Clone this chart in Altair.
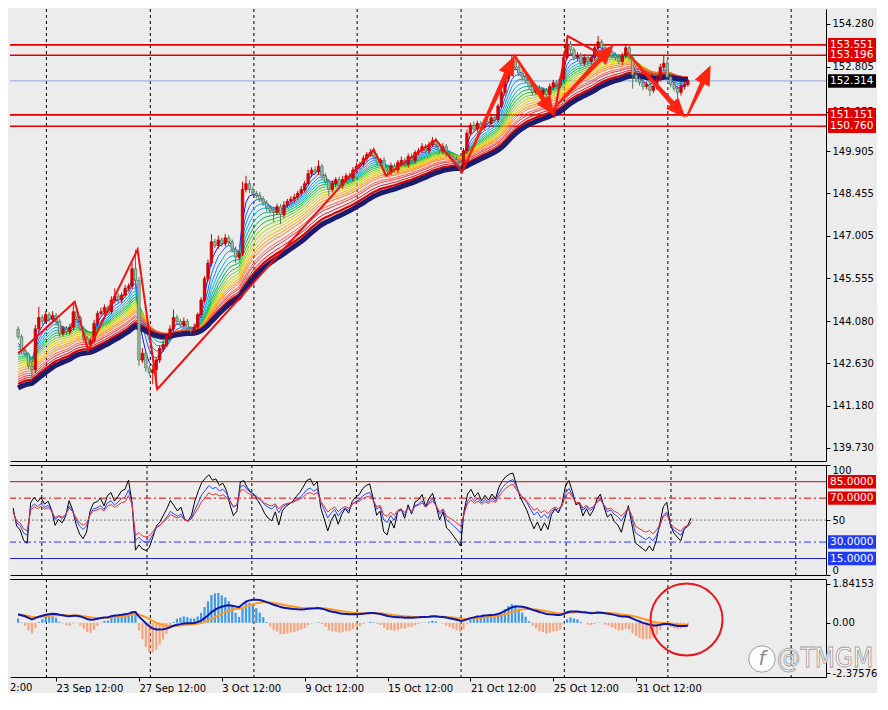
import math
import json
import altair as alt
import pandas as pd

# ---------------- data ----------------
close = [
    143.54, 143.07, 142.94, 142.54, 142.41, 143.81, 144.20, 144.07, 144.30, 144.14, 144.27, 144.07, 143.64, 143.81, 143.71,
    143.87, 144.40, 144.20, 143.81, 143.47, 143.27, 143.41, 144.00, 144.34, 144.40, 144.54, 144.40, 144.80, 144.94, 144.80,
    144.97, 145.20, 145.27, 145.87, 145.47, 142.74, 142.97, 142.47, 142.31, 142.41, 142.74, 143.14, 143.27, 143.54, 143.81,
    144.20, 144.07, 143.94, 144.07, 143.81, 143.74, 143.87, 144.30, 144.80, 145.53, 146.07, 146.80, 146.67, 146.86, 146.73,
    146.93, 146.80, 146.53, 146.27, 146.40, 148.59, 148.79, 148.59, 148.46, 148.39, 148.26, 148.13, 147.96, 147.86, 147.80,
    148.00, 147.73, 148.06, 148.19, 148.26, 148.33, 148.46, 148.59, 148.79, 149.13, 149.26, 149.19, 149.39, 149.06, 148.86,
    148.59, 148.79, 148.93, 148.73, 148.93, 149.06, 148.99, 149.26, 149.39, 149.46, 149.66, 149.79, 149.86, 149.72, 149.52,
    149.59, 149.26, 149.19, 149.39, 149.26, 149.52, 149.59, 149.46, 149.72, 149.59, 149.86, 149.92, 150.06, 149.92, 150.12,
    150.26, 150.12, 149.92, 150.06, 149.79, 149.72, 149.62, 149.52, 149.39, 149.92, 150.52, 150.79, 150.66, 150.85, 150.72,
    150.92, 150.85, 151.05, 150.99, 151.45, 151.92, 152.38, 152.78, 152.98, 152.78, 152.58, 152.45, 152.32, 152.12, 151.92,
    152.05, 151.85, 151.99, 151.85, 152.12, 152.25, 152.19, 152.38, 153.12, 153.58, 153.38, 153.12, 153.18, 152.92, 153.12,
    152.98, 153.12, 153.45, 153.65, 153.45, 153.25, 153.32, 153.18, 153.12, 152.98, 153.18, 153.45, 153.12, 152.52, 152.38,
    152.25, 152.12, 152.19, 151.99, 152.12, 152.38, 152.78, 152.92, 152.45, 152.19, 152.05, 151.92, 152.12, 152.19, 152.32,
]
open_first = 143.80
wick_up = [
    0.10, 0.08, 0.12, 0.06, 0.09, 0.14, 0.37, 0.10, 0.12, 0.08, 0.15, 0.09, 0.07, 0.11, 0.10,
    0.12, 0.34, 0.09, 0.06, 0.08, 0.10, 0.07, 0.12, 0.09, 0.14, 0.11, 0.08, 0.13, 0.26, 0.10,
    0.09, 0.12, 0.10, 0.20, 0.66, 0.12, 0.18, 0.10, 0.08, 0.12, 0.09, 0.11, 0.14, 0.10, 0.12,
    0.27, 0.10, 0.09, 0.13, 0.08, 0.10, 0.12, 0.07, 0.10, 0.09, 0.12, 0.26, 0.10, 0.15, 0.09,
    0.14, 0.10, 0.08, 0.11, 0.09, 0.27, 0.27, 0.12, 0.10, 0.08, 0.11, 0.09, 0.10, 0.07, 0.12,
    0.10, 0.09, 0.13, 0.08, 0.10, 0.11, 0.09, 0.12, 0.10, 0.14, 0.09, 0.12, 0.20, 0.08, 0.10,
    0.09, 0.12, 0.08, 0.10, 0.13, 0.09, 0.11, 0.10, 0.12, 0.08, 0.10, 0.09, 0.12, 0.16, 0.10,
    0.08, 0.11, 0.09, 0.12, 0.10, 0.08, 0.13, 0.09, 0.10, 0.12, 0.08, 0.10, 0.12, 0.09, 0.11,
    0.13, 0.10, 0.08, 0.12, 0.09, 0.10, 0.07, 0.11, 0.09, 0.10, 0.12, 0.09, 0.14, 0.10, 0.08,
    0.11, 0.09, 0.12, 0.10, 0.08, 0.12, 0.10, 0.13, 0.20, 0.10, 0.09, 0.12, 0.08, 0.11, 0.10,
    0.09, 0.12, 0.10, 0.08, 0.11, 0.10, 0.09, 0.12, 0.14, 0.27, 0.10, 0.08, 0.12, 0.09, 0.11,
    0.10, 0.08, 0.12, 0.20, 0.09, 0.11, 0.10, 0.08, 0.12, 0.09, 0.10, 0.13, 0.09, 0.11, 0.10,
    0.08, 0.12, 0.09, 0.10, 0.11, 0.09, 0.12, 0.26, 0.10, 0.08, 0.11, 0.09, 0.12, 0.10, 0.06,
]
wick_dn = [
    0.09, 0.12, 0.08, 0.10, 0.27, 0.11, 0.09, 0.12, 0.08, 0.10, 0.09, 0.13, 0.10, 0.08, 0.11,
    0.09, 0.10, 0.12, 0.08, 0.11, 0.13, 0.10, 0.09, 0.12, 0.08, 0.10, 0.11, 0.09, 0.12, 0.10,
    0.11, 0.08, 0.10, 0.09, 0.12, 0.20, 0.10, 0.13, 0.09, 0.40, 0.60, 0.10, 0.12, 0.09, 0.11,
    0.10, 0.12, 0.08, 0.11, 0.09, 0.10, 0.12, 0.09, 0.11, 0.10, 0.08, 0.12, 0.09, 0.11, 0.10,
    0.09, 0.12, 0.10, 0.20, 0.11, 0.09, 0.10, 0.12, 0.08, 0.11, 0.10, 0.09, 0.12, 0.10, 0.33,
    0.09, 0.33, 0.11, 0.10, 0.08, 0.12, 0.09, 0.11, 0.10, 0.08, 0.12, 0.09, 0.10, 0.13, 0.09,
    0.23, 0.10, 0.12, 0.09, 0.11, 0.10, 0.08, 0.12, 0.09, 0.11, 0.10, 0.12, 0.08, 0.10, 0.11,
    0.09, 0.20, 0.10, 0.12, 0.09, 0.11, 0.10, 0.08, 0.12, 0.09, 0.11, 0.10, 0.09, 0.12, 0.10,
    0.09, 0.11, 0.10, 0.12, 0.08, 0.10, 0.11, 0.09, 0.20, 0.10, 0.12, 0.09, 0.11, 0.10, 0.08,
    0.10, 0.12, 0.09, 0.11, 0.10, 0.08, 0.12, 0.10, 0.09, 0.11, 0.10, 0.12, 0.09, 0.10, 0.11,
    0.10, 0.09, 0.12, 0.23, 0.10, 0.11, 0.09, 0.12, 0.10, 0.08, 0.11, 0.10, 0.12, 0.09, 0.10,
    0.12, 0.09, 0.10, 0.11, 0.08, 0.12, 0.10, 0.09, 0.11, 0.10, 0.12, 0.09, 0.10, 0.47, 0.11,
    0.10, 0.12, 0.09, 0.20, 0.10, 0.11, 0.09, 0.10, 0.12, 0.10, 0.09, 0.20, 0.11, 0.10, 0.08,
]

date_bars = [11, 35, 59, 83, 107, 131, 155, 179]
date_labels = ["23 Sep 12:00", "27 Sep 12:00", "3 Oct 12:00", "9 Oct 12:00",
               "15 Oct 12:00", "21 Oct 12:00", "25 Oct 12:00", "31 Oct 12:00"]
cut_label = "2:00"
grid_bars = [8.2, 38.3, 68.3, 98.2, 128.3, 158.2, 188.2, 223.9]

price_ticks = [154.280, 152.805, 151.255, 149.905, 148.455, 147.005, 145.555,
               144.080, 142.630, 141.180, 139.730]
level_prices = [153.551, 153.196, 151.151, 150.760]
current_price = 152.314

ma_periods = [3, 5, 7, 9, 11, 13, 15, 17, 19, 21, 23, 25, 27, 30, 32, 35]
ma_seeds = [143.32, 143.22, 143.12, 143.02, 142.93, 142.84, 142.76, 142.68,
            142.60, 142.52, 142.42, 142.33, 142.24, 142.16, 142.08, 142.01]
ma_colors = ["#1414ff", "#1e64ff", "#0096ff", "#00b4e6", "#00b4a0", "#00b450",
             "#1ec81e", "#78d214", "#b4d20a", "#e6d200", "#ffb400", "#ff9600",
             "#ff7832", "#ff5a46", "#e6323c", "#c81e28"]
slow_red_period, slow_red_seed = 38, 141.92
navy_period, navy_seed = 42, 141.78

rsi_periods = [6, 10, 14]
rsi_start = [61, 58, 57]
rsi_colors = ["#000000", "#2846ff", "#e8302c"]

macd_fast, macd_slow, macd_signal = 12, 26, 9
macd_fast_seed, macd_slow_seed = 143.25, 142.85
signal_seed = 0.35
hist_gain = 4.0

zz_bar = [0.0, 16.4, 20.3, 34.6, 40.3, 103.0, 106.6, 121.0, 128.6, 143.8, 155.3, 159.2, 167.9]
zz_price = [142.97, 144.74, 143.07, 146.53, 141.74, 149.96, 149.06, 150.29, 149.19,
            153.18, 151.12, 153.85, 153.28]

arrow_from_bar = [130.5, 143.8, 154.5, 176.4, 193.8]
arrow_from_price = [149.72, 153.18, 151.29, 153.28, 151.12]
arrow_to_bar = [143.8, 155.3, 172.5, 193.3, 200.6]
arrow_to_price = [153.18, 151.12, 153.55, 151.05, 152.85]

ring_bar, ring_value = 193.6, 0.15

# ---------------- layout ----------------
W = 816
H1, H2, H3 = 452, 110, 98
XDOM = [-0.9, 232.55]
YDOM_MAIN = [139.28, 154.78]
YDOM_RSI = [0, 100.2]
YDOM_MACD = [-2.55, 2.06]
FONT = "DejaVu Sans"

n = len(close)
opens = [open_first] + close[:-1]
highs = [max(o, c) + u for o, c, u in zip(opens, close, wick_up)]
lows = [min(o, c) - d for o, c, d in zip(opens, close, wick_dn)]
candles = pd.DataFrame({"i": list(range(n)), "o": opens, "c": close, "h": highs, "l": lows})


def ema(vals, period, seed):
    a = 2.0 / (period + 1)
    out = [seed]
    for v in vals[1:]:
        out.append(a * v + (1 - a) * out[-1])
    return out


def rsi(vals, period, start):
    loss = 0.10
    gain = loss * start / (100 - start)
    out = [start]
    for t in range(1, len(vals)):
        d = vals[t] - vals[t - 1]
        gain = (gain * (period - 1) + max(d, 0)) / period
        loss = (loss * (period - 1) + max(-d, 0)) / period
        out.append(100 * gain / (gain + loss))
    return out


rows = []
for k, (p, s, col) in enumerate(zip(ma_periods, ma_seeds, ma_colors)):
    for i, v in enumerate(ema(close, p, s)):
        rows.append({"i": i, "k": k, "col": col, "v": v})
ma_df = pd.DataFrame(rows)
slow_df = pd.DataFrame({"i": list(range(n)),
                        "red": ema(close, slow_red_period, slow_red_seed),
                        "navy": ema(close, navy_period, navy_seed)})

rrows = []
for k, (p, s, col) in enumerate(zip(rsi_periods, rsi_start, rsi_colors)):
    for i, v in enumerate(rsi(close, p, s)):
        rrows.append({"i": i, "k": 2 - k, "col": col, "v": v})
rsi_df = pd.DataFrame(rrows)

fast = ema(close, macd_fast, macd_fast_seed)
slow = ema(close, macd_slow, macd_slow_seed)
macd = [f - s for f, s in zip(fast, slow)]
sig = ema(macd, macd_signal, signal_seed)
hist = [hist_gain * (m - s) for m, s in zip(macd, sig)]
macd_df = pd.DataFrame({"i": list(range(n)), "h": hist, "m": macd, "s": sig})

# arrows (shaft as tapered trail + rotated head)
sx = W / (XDOM[1] - XDOM[0])
sy = H1 / (YDOM_MAIN[1] - YDOM_MAIN[0])
trail_rows, head_rows = [], []
for k, (b1, p1, b2, p2) in enumerate(zip(arrow_from_bar, arrow_from_price, arrow_to_bar, arrow_to_price)):
    dx = (b2 - b1) * sx
    dy = -(p2 - p1) * sy
    L = math.hypot(dx, dy)
    ux, uy = dx / L, dy / L
    eb = b2 - 12 * ux / sx
    ep = p2 + 12 * uy / sy
    trail_rows.append({"a": k, "i": b1, "p": p1, "w": 2.0})
    trail_rows.append({"a": k, "i": eb, "p": ep, "w": 5.5})
    ang = math.degrees(math.atan2(dx, -dy)) % 360
    head_rows.append({"i": b2, "p": p2, "ang": ang})
trail_df = pd.DataFrame(trail_rows)
head_df = pd.DataFrame(head_rows)

xscale = alt.Scale(domain=XDOM, nice=False, zero=False)
hidden_x = alt.Axis(labels=False, ticks=False, domain=True, domainColor="black",
                    grid=False, title=None)
label_arr = json.dumps(date_labels).replace('"', "'")
bottom_x = alt.Axis(values=date_bars, labelExpr=f"{label_arr}[indexof({json.dumps(date_bars)}, datum.value)]",
                    labelAlign="left", labelBaseline="top", tickSize=4, labelPadding=2,
                    domainColor="black", tickColor="black", grid=False, title=None,
                    labelOverlap=False, labelFlush=False)

main_y = alt.Axis(orient="right", values=price_ticks, format=".3f", title=None, tickSize=4,
                  labelPadding=2, domainColor="black", tickColor="black", grid=False)
rsi_y = alt.Axis(orient="right", values=[0, 50, 100], title=None, tickSize=4, labelPadding=2,
                 domainColor="black", tickColor="black", grid=False, labelFlush=True)
macd_y = alt.Axis(orient="right", values=[-2.37576, 0, 1.84153], title=None, tickSize=4,
                  labelPadding=2, domainColor="black", tickColor="black", grid=False,
                  labelExpr="datum.value > 1 ? '1.84153' : (datum.value < -1 ? '-2.37576' : '0.00')")

ysc_main = alt.Scale(domain=YDOM_MAIN, nice=False, zero=False)
ysc_rsi = alt.Scale(domain=YDOM_RSI, nice=False, zero=False)
ysc_macd = alt.Scale(domain=YDOM_MACD, nice=False, zero=False)


def X(f, ax):
    return alt.X(f"{f}:Q", scale=xscale, axis=ax)


def YM(f):
    return alt.Y(f"{f}:Q", scale=ysc_main, axis=main_y)


def YR(f):
    return alt.Y(f"{f}:Q", scale=ysc_rsi, axis=rsi_y)


def YD(f):
    return alt.Y(f"{f}:Q", scale=ysc_macd, axis=macd_y)


BOX = "M-1,-0.28H1V0.28H-1Z"
HEAD = "M0,0L0.75,1.8L-0.75,1.8Z"
grid_df = pd.DataFrame({"g": grid_bars})

# ---------------- main panel ----------------
grid_main = alt.Chart(grid_df).mark_rule(color="black", strokeDash=[3, 3], strokeWidth=1).encode(x=X("g", hidden_x))
lv_main = alt.Chart(pd.DataFrame({"p": level_prices})).mark_rule(color="#e00000", strokeWidth=1.6).encode(y=YM("p"))
cur_main = alt.Chart(pd.DataFrame({"p": [current_price]})).mark_rule(color="#8aa2dc", strokeWidth=1).encode(y=YM("p"))
rainbow = alt.Chart(ma_df).mark_line(strokeWidth=1).encode(
    x=X("i", hidden_x), y=YM("v"), detail="k:N",
    color=alt.Color("col:N", scale=None))
red_ma = alt.Chart(slow_df).mark_line(color="#dc0000", strokeWidth=2.2).encode(x=X("i", hidden_x), y=YM("red"))
navy_ma = alt.Chart(slow_df).mark_line(color="#1c1c6e", strokeWidth=5).encode(x=X("i", hidden_x), y=YM("navy"))
wicks = alt.Chart(candles).mark_rule(strokeWidth=1).encode(
    x=X("i", hidden_x), y=YM("l"), y2="h",
    color=alt.condition("datum.c >= datum.o", alt.value("#d00000"), alt.value("#4f7c5a")))
bodies = alt.Chart(candles).mark_bar(width=2.4, strokeWidth=0.8).encode(
    x=X("i", hidden_x), y=YM("o"), y2="c",
    fill=alt.condition("datum.c >= datum.o", alt.value("#e00000"), alt.value("#a3bfa8")),
    stroke=alt.condition("datum.c >= datum.o", alt.value("#c00000"), alt.value("#4f7c5a")))
zz = alt.Chart(pd.DataFrame({"i": zz_bar, "p": zz_price, "k": list(range(len(zz_bar)))})).mark_line(
    color="#f01010", strokeWidth=2).encode(x=X("i", hidden_x), y=YM("p"), order="k:Q")
shafts = alt.Chart(trail_df).mark_trail(color="#ff2412").encode(
    x=X("i", hidden_x), y=YM("p"), detail="a:N", size=alt.Size("w:Q", scale=None))
heads = alt.Chart(head_df).mark_point(shape=HEAD, size=484, filled=True, color="#ff2412", opacity=1).encode(
    x=X("i", hidden_x), y=YM("p"), angle=alt.Angle("ang:Q", scale=None))
box_df = pd.DataFrame({"p": level_prices + [current_price],
                       "t": [f"{v:.3f}" for v in level_prices + [current_price]],
                       "bg": ["#e00000"] * len(level_prices) + ["#000000"]})
boxes = alt.Chart(box_df).mark_point(shape=BOX, size=2304, filled=True, opacity=1).encode(
    x=alt.value(W + 26), y=YM("p"), color=alt.Color("bg:N", scale=None))
box_txt = alt.Chart(box_df).mark_text(align="left", baseline="middle", color="white", fontSize=10.5, font=FONT).encode(
    x=alt.value(W + 4), y=YM("p"), text="t:N")

main = alt.layer(grid_main, lv_main, cur_main, rainbow, red_ma, navy_ma, wicks, bodies, zz, shafts, heads,
                 boxes, box_txt).properties(width=W, height=H1)

# ---------------- RSI panel ----------------
top_rule = alt.Chart(pd.DataFrame({"a": [0]})).mark_rule(color="black", strokeWidth=1).encode(
    x=alt.value(0), x2=alt.value(W), y=alt.value(0.5))
grid_r = alt.Chart(grid_df).mark_rule(color="black", strokeDash=[3, 3], strokeWidth=1).encode(x=X("g", hidden_x))
rsi_level_style = [(85, "#e00000", [1, 0]), (70, "#e00000", [7, 3, 2, 3]), (50, "#7a7a7a", [2, 2]),
                   (30, "#3030ff", [7, 3, 2, 3]), (15, "#2020c0", [1, 0])]
rsi_layers = [grid_r]
for lvl, col, dash in rsi_level_style:
    rsi_layers.append(alt.Chart(pd.DataFrame({"v": [lvl]})).mark_rule(color=col, strokeDash=dash, strokeWidth=1)
                      .encode(y=YR("v")))
rsi_layers.append(alt.Chart(rsi_df).mark_line(strokeWidth=1).encode(
    x=X("i", hidden_x), y=YR("v"), detail="k:N", color=alt.Color("col:N", scale=None)))
rbox_df = pd.DataFrame({"v": [85, 70, 30, 15], "t": ["85.0000", "70.0000", "30.0000", "15.0000"],
                        "bg": ["#e00000", "#e00000", "#1f3cf0", "#1f3cf0"]})
rsi_layers.append(alt.Chart(rbox_df).mark_point(shape=BOX, size=2304, filled=True, opacity=1).encode(
    x=alt.value(W + 26), y=YR("v"), color=alt.Color("bg:N", scale=None)))
rsi_layers.append(alt.Chart(rbox_df).mark_text(align="left", baseline="middle", color="white", fontSize=10.5,
                                              font=FONT).encode(x=alt.value(W + 4), y=YR("v"), text="t:N"))
rsi_layers.append(top_rule)
rsi_panel = alt.layer(*rsi_layers).properties(width=W, height=H2)

# ---------------- MACD panel ----------------
grid_m = alt.Chart(grid_df).mark_rule(color="black", strokeDash=[3, 3], strokeWidth=1).encode(x=X("g", bottom_x))
bars = alt.Chart(macd_df).mark_bar(width=2.2).encode(
    x=X("i", bottom_x), y=YD("h"), y2=alt.datum(0),
    color=alt.condition("datum.h >= 0", alt.value("#3f9ae6"), alt.value("#f6a47e")))
sig_line = alt.Chart(macd_df).mark_line(color="#ff9a20", strokeWidth=2).encode(x=X("i", bottom_x), y=YD("s"))
macd_line = alt.Chart(macd_df).mark_line(color="#0c18a8", strokeWidth=2).encode(x=X("i", bottom_x), y=YD("m"))
ring = alt.Chart(pd.DataFrame({"i": [ring_bar], "v": [ring_value]})).mark_point(
    shape="circle", size=5184, filled=False, color="#e8141e", strokeWidth=2, opacity=1).encode(
    x=X("i", bottom_x), y=YD("v"))
cut = alt.Chart(pd.DataFrame({"t": [cut_label]})).mark_text(
    align="left", baseline="top", fontSize=10, font=FONT, color="black").encode(
    x=alt.value(0), y=alt.value(H3 + 6), text="t:N")
logo = alt.Chart(pd.DataFrame({"a": [0]})).mark_point(
    shape="circle", size=700, filled=True, color="white", stroke="#9a9a9a", strokeWidth=1, opacity=0.95).encode(
    x=alt.value(W - 64), y=alt.value(80))
logo_f = alt.Chart(pd.DataFrame({"t": ["f"]})).mark_text(
    fontSize=20, font=FONT, fontStyle="italic", color="#8a8a8a", baseline="middle", align="center").encode(
    x=alt.value(W - 64), y=alt.value(80), text="t:N")
wm = alt.Chart(pd.DataFrame({"t": ["@TMGM"]})).mark_text(
    fontSize=26, font="DejaVu Sans Condensed, DejaVu Sans", color="white",
    stroke="#9a9a9a", strokeWidth=0.8, align="left", baseline="middle").encode(
    x=alt.value(W - 49), y=alt.value(80), text="t:N")
macd_panel = alt.layer(grid_m, bars, sig_line, macd_line, ring, cut, logo, logo_f, wm, top_rule).properties(
    width=W, height=H3)

chart = alt.vconcat(main, rsi_panel, macd_panel, spacing=2).properties(
    padding=0, background="#ececec"
).configure_view(stroke=None).configure_axis(
    labelFont=FONT, labelFontSize=10, labelColor="black")

chart.save("out.html", embed_options={"renderer": "svg", "actions": False})
